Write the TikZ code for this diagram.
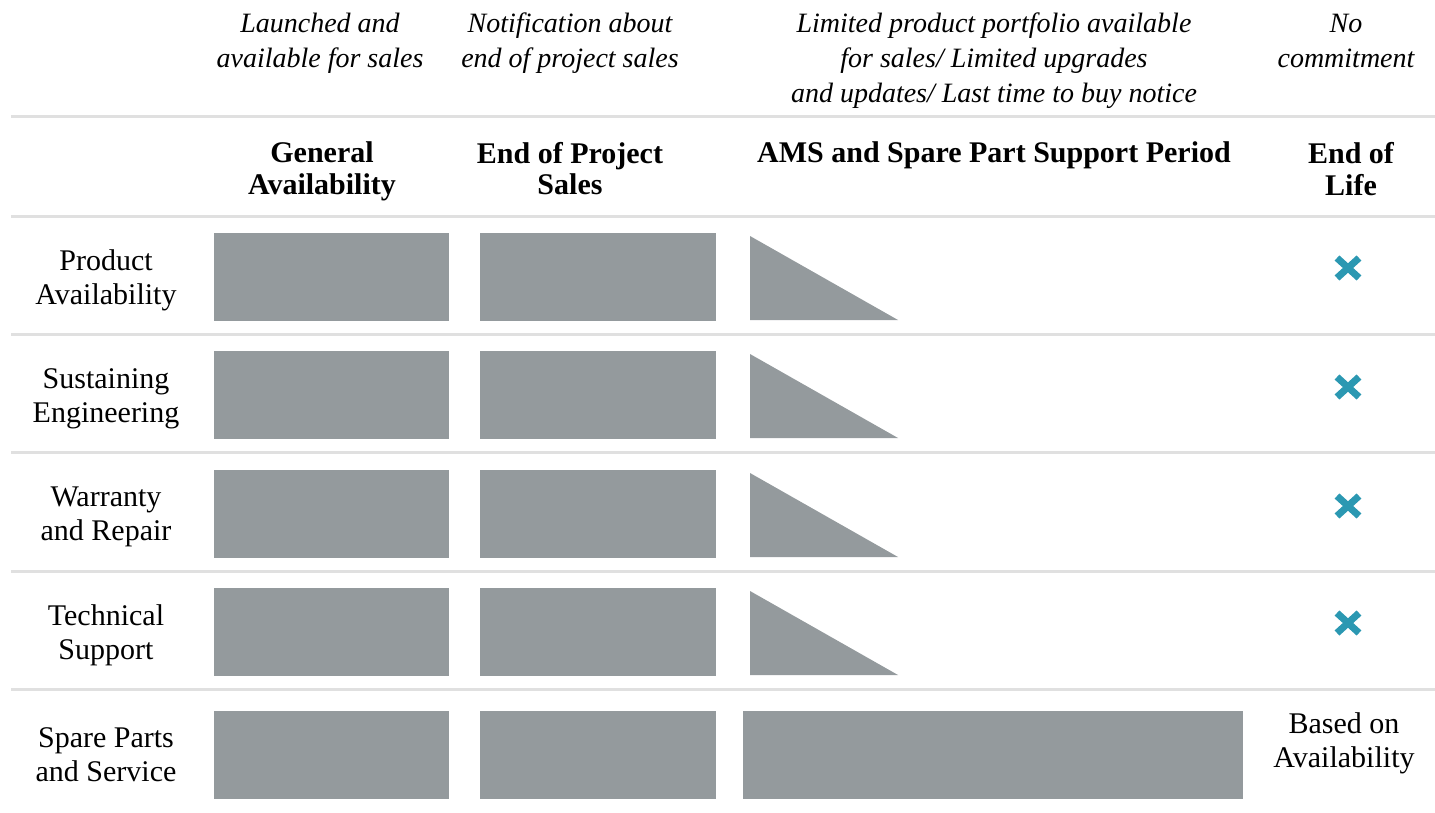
\documentclass[tikz,border=0pt]{standalone}
\usepackage{fontspec}
\setmainfont{Liberation Serif}
\definecolor{bargray}{RGB}{148,154,157}
\definecolor{rulegray}{RGB}{224,224,224}
\definecolor{xteal}{RGB}{43,152,178}
\begin{document}
\begin{tikzpicture}[x=0.5pt,y=-0.5pt,
  itxt/.style={align=center,inner sep=0pt,anchor=north,font=\fontsize{14}{17.5}\selectfont\itshape},
  btxt/.style={align=center,inner sep=0pt,anchor=north,font=\fontsize{15}{14.5}\selectfont\bfseries},
  rtxt/.style={align=center,inner sep=0pt,anchor=north,font=\fontsize{15}{17}\selectfont},
  rulestyle/.style={draw=rulegray,line width=1.5pt},
  barstyle/.style={fill=bargray},
  xmark/.style={draw=xteal,line width=3.5pt}]
\useasboundingbox (0,0) rectangle (1435,813);

% horizontal rules
\foreach \yy in {117,216,334,452,571,689}
  \draw[rulestyle] (11,\yy) -- (1435,\yy);

% italic descriptions
\node[itxt] (d1) at (320,7.5) {\strut Launched and\\available for sales};
\node[itxt] (d2) at (570,7.5) {\strut Notification about\\end of project sales};
\node[itxt] (d3) at (994,7.5) {\strut Limited product portfolio available\\for sales/ Limited upgrades\\and updates/ Last time to buy notice};
\node[itxt] (d4) at (1346,7.5) {\strut No\\commitment};

% bold phase headers
\node[btxt] (p1) at (322,141.7) {\strut General\\Availability};
\node[btxt] (p2) at (570,141.7) {\strut End of Project\\Sales};
\node[btxt] (p3) at (994,141.7) {\strut AMS and Spare Part Support Period};
\node[btxt] (p4) at (1351,141.7) {\strut End of\\Life};

% row labels
\node[rtxt] (r1) at (106,246.2) {\strut Product\\Availability};
\node[rtxt] (r2) at (106,364.2) {\strut Sustaining\\Engineering};
\node[rtxt] (r3) at (106,482.7) {\strut Warranty\\and Repair};
\node[rtxt] (r4) at (106,601.2) {\strut Technical\\Support};
\node[rtxt] (r5) at (106,723.2) {\strut Spare Parts\\and Service};

% bars rows 1-4
\foreach \t/\b in {233/321,351/439,470/558,588/676}{
  \fill[barstyle] (214,\t) rectangle (449,\b);
  \fill[barstyle] (480,\t) rectangle (716,\b);
  \fill[barstyle] (750,\t+3) -- (750,\b-1) -- (898,\b-1) -- cycle;
}
% row 5
\fill[barstyle] (214,711) rectangle (449,799);
\fill[barstyle] (480,711) rectangle (716,799);
\fill[barstyle] (743,711) rectangle (1243,799);
\node[rtxt] (ba) at (1344,709.2) {\strut Based on\\Availability};

% end-of-life crosses
\foreach \cy in {268,387,506,623}{
  \draw[xmark] (1337,\cy-10) -- (1359,\cy+10);
  \draw[xmark] (1337,\cy+10) -- (1359,\cy-10);
}
\end{tikzpicture}
\end{document}
